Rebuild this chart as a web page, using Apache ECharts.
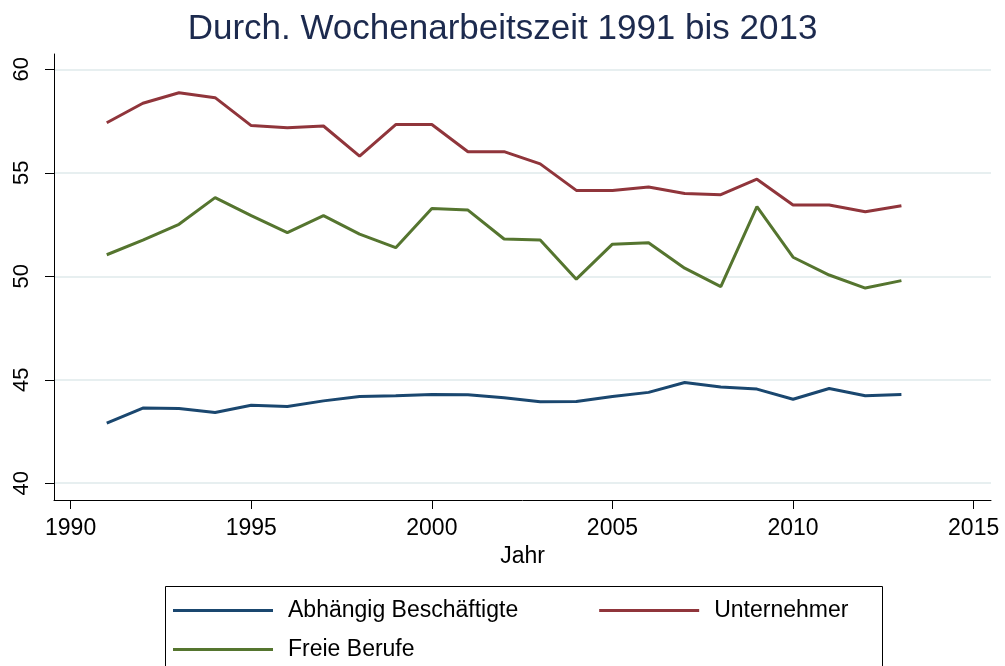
<!DOCTYPE html>
<html>
<head>
<meta charset="UTF-8">
<title>Wochenarbeitszeit</title>
<script src="https://cdn.jsdelivr.net/npm/echarts@6/dist/echarts.min.js"></script>
<style>
  html, body { margin: 0; padding: 0; background: #fff; }
  #chart { width: 1005px; height: 666px; }
</style>
</head>
<body>
<div id="chart"></div>
<script>
// Daten
var years = [1991,1992,1993,1994,1995,1996,1997,1998,1999,2000,2001,2002,2003,2004,2005,2006,2007,2008,2009,2010,2011,2012,2013];
var abhaengig = [42.90,43.63,43.61,43.42,43.77,43.71,43.98,44.19,44.23,44.29,44.27,44.13,43.94,43.95,44.19,44.39,44.87,44.65,44.55,44.06,44.58,44.23,44.29];
var unternehmer = [57.42,58.36,58.87,58.63,57.28,57.18,57.26,55.81,57.33,57.33,56.02,56.02,55.43,54.15,54.15,54.31,54.00,53.94,54.69,53.44,53.44,53.12,53.41];
var freieBerufe = [51.04,51.75,52.51,53.80,52.93,52.11,52.93,52.04,51.38,53.27,53.20,51.80,51.75,49.86,51.55,51.62,50.39,49.50,53.36,50.92,50.06,49.43,49.79];
var xTicks = [1990,1995,2000,2005,2010,2015];
var yTicks = [40,45,50,55,60];

var font = '"Liberation Sans", Arial, sans-serif';

function pairs(vals){
  var out = [];
  for (var i = 0; i < years.length; i++) out.push([years[i], vals[i]]);
  return out;
}

var chart = echarts.init(document.getElementById('chart'), null, {renderer: 'canvas'});

var option = {
  backgroundColor: '#fff',
  animation: false,
  color: ['#1a476f', '#90353b', '#55752f'],
  title: {
    text: 'Durch. Wochenarbeitszeit 1991 bis 2013',
    left: 'center',
    top: 7,
    textStyle: { color: '#1c2a4e', fontFamily: font, fontSize: 35, fontWeight: 'normal' }
  },
  grid: { left: 54, right: 14, top: 54, bottom: 166 },
  xAxis: {
    type: 'value',
    min: 1989.54,
    max: 2015.48,
    name: 'Jahr',
    nameLocation: 'middle',
    nameGap: 44,
    nameTextStyle: { color: '#000', fontFamily: font, fontSize: 23 },
    axisLine: { show: true, lineStyle: { color: '#000', width: 1 } },
    axisTick: { show: true, length: 9, customValues: xTicks, lineStyle: { color: '#000' } },
    axisLabel: {
      customValues: xTicks, color: '#000', fontFamily: font, fontSize: 23, margin: 17,
      formatter: function(v){ return String(v); }
    },
    splitLine: { show: false }
  },
  yAxis: {
    type: 'value',
    min: 39.19,
    max: 60.74,
    axisLine: { show: true, lineStyle: { color: '#000', width: 1 } },
    axisTick: { show: true, length: 9, customValues: yTicks, lineStyle: { color: '#000' } },
    axisLabel: { customValues: yTicks, rotate: 90, color: '#000', fontFamily: font, fontSize: 22, margin: 21 },
    splitLine: { show: true, lineStyle: { color: '#e7eff0', width: 2 } }
  },
  legend: [
    {
      data: ['Abhängig Beschäftigte', 'Unternehmer'],
      left: 173, top: 599,
      padding: 0,
      itemGap: 81,
      icon: 'rect', itemWidth: 100, itemHeight: 3,
      textStyle: { color: '#000', fontFamily: font, fontSize: 23, padding: [0, 0, 0, 10] }
    },
    {
      data: ['Freie Berufe'],
      left: 173, top: 638,
      padding: 0,
      icon: 'rect', itemWidth: 100, itemHeight: 3,
      textStyle: { color: '#000', fontFamily: font, fontSize: 23, padding: [0, 0, 0, 10] }
    }
  ],
  graphic: [
    {
      type: 'rect', left: 163, top: 584, silent: true,
      shape: { width: 717, height: 100 },
      style: { fill: 'none', stroke: '#000', lineWidth: 1 }
    }
  ],
  series: [
    { name: 'Abhängig Beschäftigte', type: 'line', data: pairs(abhaengig), showSymbol: false, lineStyle: { width: 3 } },
    { name: 'Unternehmer', type: 'line', data: pairs(unternehmer), showSymbol: false, lineStyle: { width: 3 } },
    { name: 'Freie Berufe', type: 'line', data: pairs(freieBerufe), showSymbol: false, lineStyle: { width: 3 } }
  ]
};

chart.setOption(option);
window.onresize = chart.resize;
</script>
</body>
</html>
